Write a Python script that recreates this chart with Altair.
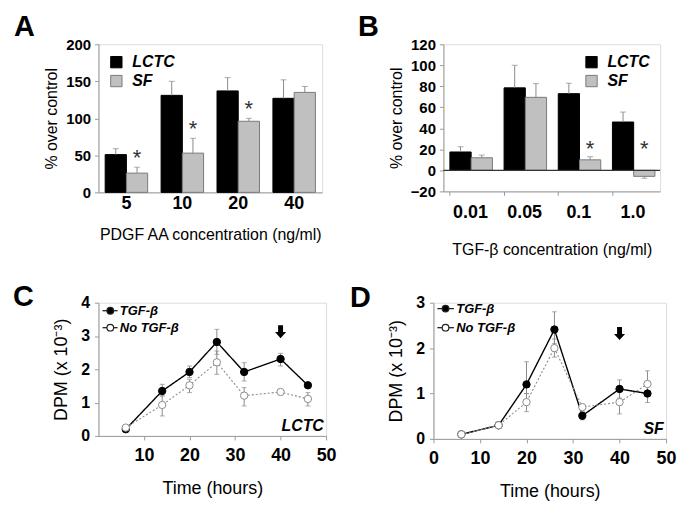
import altair as alt
import pandas as pd

FONT = "Liberation Sans"

# ---------------- Panel A ----------------
A_cats = ["5", "10", "20", "40"]
A_lctc = [51, 131, 137, 127]
A_lctc_top = [59, 150, 155, 152]
A_sf = [26, 53, 96, 135]
A_sf_top = [34, 73, 100, 143]
A_star_cats = ["5", "10", "20"]
A_star_y = [55, 93, 120]

# ---------------- Panel B ----------------
B_cats = ["0.01", "0.05", "0.1", "1.0"]
B_lctc = [17.5, 78.5, 73, 46]
B_lctc_top = [22.5, 100, 83, 55.5]
B_sf = [12, 69.5, 10, -5.7]
B_sf_top = [14.5, 82.5, 13, -7.5]
B_star_cats = ["0.1", "1.0"]
B_star_y = [26, 26]

# ---------------- Panels C & D ----------------
hours = [6, 14, 20, 26, 32, 40, 46]
C_tgf = [0.2, 1.35, 1.92, 2.82, 1.92, 2.31, 1.52]
C_tgf_lo = [0.2, 1.2, 1.75, 2.45, 1.65, 2.1, 1.45]
C_tgf_hi = [0.2, 1.55, 2.1, 3.2, 2.2, 2.48, 1.6]
C_no = [0.25, 0.93, 1.52, 2.21, 1.21, 1.32, 1.11]
C_no_lo = [0.25, 0.6, 1.3, 1.85, 0.9, 1.25, 0.9]
C_no_hi = [0.25, 1.2, 1.7, 2.55, 1.45, 1.38, 1.3]
C_arrow = (40, 3.13)
C_tag = ("LCTC", 49.5, 0.05)
C_legend_y = [3.76, 3.25]
C_legend_x = (0.9, 2.6, 4.2, 4.7)   # line start, circle, line end, label start

D_tgf = [0.1, 0.3, 1.2, 2.41, 0.51, 1.1, 1.0]
D_tgf_lo = [0.1, 0.3, 1.0, 2.1, 0.42, 0.9, 0.8]
D_tgf_hi = [0.1, 0.3, 1.7, 2.8, 0.6, 1.3, 1.2]
D_no = [0.1, 0.3, 0.81, 2.0, 0.7, 0.81, 1.21]
D_no_lo = [0.1, 0.3, 0.6, 1.8, 0.65, 0.55, 1.0]
D_no_hi = [0.1, 0.3, 1.0, 2.2, 0.75, 1.1, 1.5]
D_arrow = (40, 2.32)
D_tag = ("SF", 49.5, 0.05)
D_legend_y = [2.87, 2.45]
D_legend_x = (0.85, 2.6, 4.4, 4.9)

SERIES_BAR = ["LCTC", "SF"]
SERIES_LINE = ["TGF-β", "No TGF-β"]

ERR = "#8a8a8a"
AXC = "#9a9a9a"


def panel_letter(t, px, py):
    return alt.Chart(pd.DataFrame({"t": [t]})).mark_text(
        font=FONT, fontSize=29, fontWeight="bold", align="left",
        baseline="alphabetic", color="black").encode(
        x=alt.value(px), y=alt.value(py), text="t:N")


def bar_panel(cats, lctc, lctc_top, sf, sf_top, star_cats, star_y,
              ydom, yvals, xtitle, letter, lpos, legend_orient, w, h, zero_line,
              lab_pad, title_pad, tick_size):
    df = pd.DataFrame({
        "cat": cats + cats,
        "series": ["LCTC"] * len(cats) + ["SF"] * len(cats),
        "val": lctc + sf,
        "top": lctc_top + sf_top,
    })
    sdf = pd.DataFrame({"cat": star_cats, "series": ["SF"] * len(star_cats),
                        "y": star_y, "t": ["*"] * len(star_cats)})
    x = alt.X("cat:N", sort=cats,
              scale=alt.Scale(paddingInner=0.24, paddingOuter=0.12),
              axis=alt.Axis(title=xtitle, labelAngle=0, labelFontSize=18,
                            labelFontWeight="bold", labelFont=FONT, labelColor="black",
                            titleFont=FONT, titleFontSize=16, titleFontWeight="normal",
                            titleColor="black", titlePadding=title_pad, labelPadding=lab_pad,
                            domainColor=AXC, tickColor=AXC, tickSize=tick_size,
                            bandPosition=0, ticks=tick_size > 0))
    xo = alt.XOffset("series:N", sort=SERIES_BAR)
    yscale = alt.Scale(domain=ydom, nice=False, zero=False)
    yaxis = alt.Axis(values=yvals, title="% over control", labelFontSize=15,
                     labelFontWeight="bold", labelFont=FONT, labelColor="black",
                     titleFont=FONT, titleFontSize=16, titleFontWeight="normal",
                     titleColor="black", titlePadding=6, labelPadding=4,
                     labelOverlap=False, labelFlush=False,
                     domainColor=AXC, tickColor=AXC, tickSize=4, grid=False)

    def Y(f):
        return alt.Y(f, scale=yscale, axis=yaxis)

    bars = alt.Chart(df).mark_bar(strokeWidth=1).encode(
        x=x, xOffset=xo, y=Y("val:Q"), y2=alt.datum(0),
        color=alt.Color("series:N", sort=SERIES_BAR,
                        scale=alt.Scale(domain=SERIES_BAR, range=["#000000", "#c0c0c0"]),
                        legend=alt.Legend(title=None, orient=legend_orient,
                                          symbolType="square", symbolSize=130,
                                          symbolStrokeColor="#555", symbolStrokeWidth=1,
                                          labelFont=FONT, labelFontSize=16,
                                          labelFontWeight="bold", labelFontStyle="italic",
                                          labelColor="black", rowPadding=3,
                                          labelOffset=8, offset=10, padding=0)),
        stroke=alt.Stroke("series:N", sort=SERIES_BAR,
                          scale=alt.Scale(domain=SERIES_BAR, range=["#000000", "#7a7a7a"]),
                          legend=None),
    )
    err = alt.Chart(df).mark_rule(color=ERR, strokeWidth=1).encode(
        x=x, xOffset=xo, y=Y("val:Q"), y2="top:Q")
    cap = alt.Chart(df).mark_tick(color=ERR, size=6, thickness=1).encode(
        x=x, xOffset=xo, y=Y("top:Q"))
    stars = alt.Chart(sdf).mark_text(font=FONT, fontSize=22, color="#333",
                                     baseline="middle", dy=6).encode(
        x=x, xOffset=xo, y=Y("y:Q"), text="t:N")
    layers = [bars, err, cap, stars]
    if zero_line:
        zdf = pd.DataFrame({"z": [0]})
        layers.append(alt.Chart(zdf).mark_rule(color="#333", strokeWidth=1.2).encode(
            y=Y("z:Q")))
    layers.append(panel_letter(letter, *lpos))
    return alt.layer(*layers).properties(width=w, height=h)


ARROW_PATH = "M-0.38,-1 L0.38,-1 L0.38,0.05 L0.85,0.05 L0,1 L-0.85,0.05 L-0.38,0.05 Z"


def line_panel(tgf, tgf_lo, tgf_hi, no, no_lo, no_hi, arrow, tag, leg_y, leg_x,
               ydom, yvals, xvals, letter, lpos, w, h):
    n = len(hours)
    df = pd.DataFrame({
        "h": hours + hours,
        "series": [SERIES_LINE[0]] * n + [SERIES_LINE[1]] * n,
        "v": tgf + no,
        "lo": tgf_lo + no_lo,
        "hi": tgf_hi + no_hi,
    })
    ldf = pd.DataFrame({
        "series": SERIES_LINE,
        "y": leg_y,
        "x0": [leg_x[0]] * 2,
        "xc": [leg_x[1]] * 2,
        "x1": [leg_x[2]] * 2,
        "xt": [leg_x[3]] * 2,
    })
    xs = alt.Scale(domain=[0, 50], nice=False)
    ys = alt.Scale(domain=ydom, nice=False)
    xaxis = alt.Axis(values=xvals, title="Time (hours)", labelFontSize=18,
                     labelFontWeight="bold", labelFont=FONT, labelColor="black",
                     titleFont=FONT, titleFontSize=18, titleFontWeight="normal",
                     titleColor="black", titlePadding=15, labelPadding=7,
                     labelOverlap=False, labelFlush=False,
                     domainColor=AXC, tickColor=AXC, tickSize=4, grid=False)
    yaxis = alt.Axis(values=yvals, title="DPM (x 10⁻³)", labelFontSize=16,
                     labelFontWeight="bold", labelFont=FONT, labelColor="black",
                     titleFont=FONT, titleFontSize=18, titleFontWeight="normal",
                     titleColor="black", titlePadding=10, labelPadding=5,
                     labelOverlap=False, labelFlush=False,
                     domainColor=AXC, tickColor=AXC, tickSize=4, grid=False)

    def X(f):
        return alt.X(f, scale=xs, axis=xaxis)

    def Y(f):
        return alt.Y(f, scale=ys, axis=yaxis)

    stroke_scale = alt.Scale(domain=SERIES_LINE, range=["#000000", "#8c8c8c"])
    fill_scale = alt.Scale(domain=SERIES_LINE, range=["#000000", "#ffffff"])
    err = alt.Chart(df).mark_rule(color=ERR, strokeWidth=1).encode(
        x=X("h:Q"), y=Y("lo:Q"), y2="hi:Q")
    caplo = alt.Chart(df).mark_tick(color=ERR, size=5, thickness=1, orient="horizontal").encode(
        x=X("h:Q"), y=Y("lo:Q"))
    caphi = alt.Chart(df).mark_tick(color=ERR, size=5, thickness=1, orient="horizontal").encode(
        x=X("h:Q"), y=Y("hi:Q"))
    lines = alt.Chart(df).mark_line().encode(
        x=X("h:Q"), y=Y("v:Q"), detail="series:N",
        stroke=alt.Stroke("series:N", sort=SERIES_LINE, scale=stroke_scale, legend=None),
        strokeDash=alt.StrokeDash("series:N", sort=SERIES_LINE,
                                  scale=alt.Scale(domain=SERIES_LINE, range=[[1, 0], [2, 2]]),
                                  legend=None),
        strokeWidth=alt.StrokeWidth("series:N", sort=SERIES_LINE,
                                    scale=alt.Scale(domain=SERIES_LINE, range=[1.4, 1.1]),
                                    legend=None),
    )
    pts = alt.Chart(df).mark_point(filled=True, size=55, shape="circle", opacity=1,
                                   strokeWidth=1).encode(
        x=X("h:Q"), y=Y("v:Q"),
        fill=alt.Fill("series:N", sort=SERIES_LINE, scale=fill_scale, legend=None),
        stroke=alt.Stroke("series:N", sort=SERIES_LINE, scale=stroke_scale, legend=None),
    )
    # legend (drawn from the legend entries)
    leg_line = alt.Chart(ldf).mark_rule(color="#222", strokeWidth=1.3).encode(
        x=X("x0:Q"), x2="x1:Q", y=Y("y:Q"))
    leg_pt = alt.Chart(ldf).mark_point(filled=True, size=45, shape="circle", opacity=1,
                                       stroke="#222", strokeWidth=1.2).encode(
        x=X("xc:Q"), y=Y("y:Q"),
        fill=alt.Fill("series:N", sort=SERIES_LINE, scale=fill_scale, legend=None))
    leg_txt = alt.Chart(ldf).mark_text(font=FONT, fontSize=13, fontWeight="bold",
                                       fontStyle="italic", align="left", baseline="middle",
                                       color="black").encode(
        x=X("xt:Q"), y=Y("y:Q"), text="series:N")
    adf = pd.DataFrame({"h": [arrow[0]], "v": [arrow[1]]})
    arr = alt.Chart(adf).mark_point(shape=ARROW_PATH, filled=True, size=170,
                                    color="black", opacity=1).encode(
        x=X("h:Q"), y=Y("v:Q"))
    tdf = pd.DataFrame({"h": [tag[1]], "v": [tag[2]], "t": [tag[0]]})
    tg = alt.Chart(tdf).mark_text(font=FONT, fontSize=16, fontWeight="bold",
                                  fontStyle="italic", align="right", baseline="bottom",
                                  color="black").encode(
        x=X("h:Q"), y=Y("v:Q"), text="t:N")
    return alt.layer(lines, err, caplo, caphi, pts, leg_line, leg_pt, leg_txt,
                     arr, tg, panel_letter(letter, *lpos)).properties(width=w, height=h)


A = bar_panel(A_cats, A_lctc, A_lctc_top, A_sf, A_sf_top, A_star_cats, A_star_y,
              [0, 200], [0, 50, 100, 150, 200], "PDGF AA concentration (ng/ml)", "A",
              (-85, -8), "top-left", 225, 149, False, 2, 14, 0)
B = bar_panel(B_cats, B_lctc, B_lctc_top, B_sf, B_sf_top, B_star_cats, B_star_y,
              [-20, 120], [-20, 0, 20, 40, 60, 80, 100, 120], "TGF-β concentration (ng/ml)", "B",
              (-86, -8), "top-right", 218, 148, True, 8, 20, 4)
C = line_panel(C_tgf, C_tgf_lo, C_tgf_hi, C_no, C_no_lo, C_no_hi, C_arrow, C_tag,
               C_legend_y, C_legend_x,
               [0, 4], [0, 1, 2, 3, 4], [10, 20, 30, 40, 50], "C", (-86, 3), 229, 134)
D = line_panel(D_tgf, D_tgf_lo, D_tgf_hi, D_no, D_no_lo, D_no_hi, D_arrow, D_tag,
               D_legend_y, D_legend_x,
               [0, 3], [0, 1, 2, 3], [0, 10, 20, 30, 40, 50], "D", (-84, 4), 234, 137)

row1 = alt.hconcat(A, B, spacing=34).resolve_scale(color="independent", x="independent",
                                                    y="independent", stroke="independent")
row2 = alt.hconcat(C, D, spacing=12).resolve_scale(x="independent", y="independent",
                                                    stroke="independent", fill="independent")
chart = alt.vconcat(row1, row2, spacing=24).resolve_scale(
    color="independent", stroke="independent", fill="independent"
).configure_view(stroke="#c8c8c8", strokeWidth=1).configure(
    background="white", padding={"left": 4, "top": 3, "right": 0, "bottom": 0}
)

chart.save("out.html", embed_options={"renderer": "svg", "actions": False})
